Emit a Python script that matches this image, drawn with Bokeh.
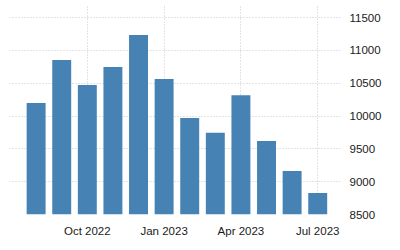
from bokeh.plotting import figure
from bokeh.models import Range1d, LinearAxis, FixedTicker, ColumnDataSource
from bokeh.embed import file_html
from bokeh.resources import INLINE

months = ["Aug 2022", "Sep 2022", "Oct 2022", "Nov 2022", "Dec 2022", "Jan 2023",
          "Feb 2023", "Mar 2023", "Apr 2023", "May 2023", "Jun 2023", "Jul 2023"]
values = [10200, 10855, 10474, 10748, 11236, 10565, 9971, 9747, 10317, 9620, 9163, 8828]
x_tick_labels = ["Oct 2022", "Jan 2023", "Apr 2023", "Jul 2023"]
y_ticks = [8500, 9000, 9500, 10000, 10500, 11000, 11500]

idx = list(range(len(months)))
src = ColumnDataSource(dict(x=idx, top=values, month=months))

p = figure(width=400, height=250, output_backend="svg", toolbar_location=None,
           x_range=Range1d(-1.04, 11.89), y_range=Range1d(8500, 11700),
           y_axis_location=None, x_axis_location=None,
           min_border_left=9, min_border_right=60, min_border_top=4, min_border_bottom=36)
p.outline_line_color = None
p.background_fill_color = "white"
p.border_fill_color = "white"

p.vbar(x="x", top="top", bottom=8500, width=0.74, source=src,
       fill_color="#4682B4", line_color=None)

tick_pos = [months.index(m) for m in x_tick_labels]

xaxis = LinearAxis(ticker=FixedTicker(ticks=tick_pos),
                   major_label_overrides={i: m for i, m in zip(tick_pos, x_tick_labels)})
yaxis = LinearAxis(ticker=FixedTicker(ticks=y_ticks))
for ax in (xaxis, yaxis):
    ax.axis_line_color = None
    ax.major_tick_line_color = None
    ax.minor_tick_line_color = None
    ax.major_label_text_font = "Liberation Sans"
    ax.major_label_text_font_size = "11.5px"
    ax.major_label_text_color = "#1a1a1a"
xaxis.major_label_standoff = 4
yaxis.major_label_standoff = 3
p.add_layout(xaxis, "below")
p.add_layout(yaxis, "right")

p.xgrid.ticker = FixedTicker(ticks=tick_pos)
p.ygrid.ticker = FixedTicker(ticks=y_ticks)
for g in (p.xgrid, p.ygrid):
    g.grid_line_color = "#c8c8c8"
    g.grid_line_dash = "1 2"
    g.grid_line_width = 1

open("out.html", "w").write(file_html(p, INLINE))
